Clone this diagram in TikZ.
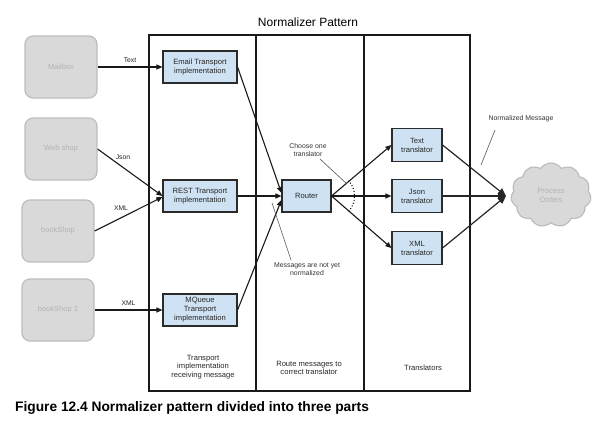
\documentclass[tikz,border=0pt]{standalone}
\usepackage{fontspec}
\setmainfont{Liberation Sans}
\usetikzlibrary{arrows.meta,shapes.symbols,calc}
\definecolor{boxblue}{HTML}{CFE2F3}
\definecolor{boxedge}{HTML}{2B2B2B}
\definecolor{srcfill}{HTML}{D9D9D9}
\definecolor{srcedge}{HTML}{BDBDBD}
\definecolor{srctext}{HTML}{B3B3B3}
\definecolor{notegray}{HTML}{555555}
\tikzset{
  srcbox/.style={draw=srcedge, fill=srcfill, line width=1.2pt, rounded corners=8pt,
    minimum width=72pt, minimum height=62pt, text=srctext, font=\fontsize{7.5}{9}\selectfont},
  compbox/.style={draw=boxedge, fill=boxblue, line width=1.1pt, minimum width=74pt,
    minimum height=32pt, align=center, inner sep=1pt, text=black!85, font=\fontsize{7.6}{9}\selectfont},
  trbox/.style={compbox, minimum width=50pt, minimum height=33pt},
  flow/.style={-{Triangle[length=6pt,width=5pt]}, line width=1.1pt, draw=black!90},
  conv/.style={-{Triangle[length=8pt,width=7pt]}, line width=1.2pt, draw=black!85},
  lbl/.style={font=\fontsize{6.8}{8}\selectfont, text=black!85},
  note/.style={font=\fontsize{6.9}{8}\selectfont, align=center, text=black!80},
  coltext/.style={font=\fontsize{7.6}{8.8}\selectfont, align=center, text=black!85},
  pointer/.style={draw=notegray, line width=0.6pt},
  frame/.style={draw=black!90, line width=1.1pt}
}
\begin{document}
\begin{tikzpicture}[x=1pt,y=-1pt]
\useasboundingbox (0,0) rectangle (605,424);
% frame and columns
\draw[frame] (149,35) rectangle (470,391);
\draw[frame] (256,35) -- (256,391);
\draw[frame] (364,35) -- (364,391);
\node (title) at (308,22) {\fontsize{12}{14}\selectfont Normalizer Pattern};

% sources
\node[srcbox] (mail) at (61,67) {Mailbox};
\node[srcbox] (web) at (61,149) {Web shop};
\node[srcbox] (book) at (58,231) {bookShop};
\node[srcbox] (book2) at (58,310) {bookShop 2};

% transports
\node[compbox] (email) at (200,67) {Email Transport\\implementation};
\node[compbox] (rest) at (200,196) {REST Transport\\implementation};
\node[compbox] (mq) at (200,310) {MQueue\\Transport\\implementation};

% router
\node[compbox, minimum width=49pt] (router) at (306.5,196) {Router};

% translators
\node[trbox] (ttext) at (417,145) {Text\\translator};
\node[trbox] (tjson) at (417,196) {Json\\translator};
\node[trbox] (txml) at (417,248) {XML\\translator};

% cloud
\node[cloud, cloud puffs=11, cloud puff arc=110, aspect=1.25, draw=srcedge, fill=srcfill,
      line width=1.2pt, minimum width=80pt, minimum height=64pt, text=srctext, align=center,
      font=\fontsize{7.5}{9}\selectfont] (proc) at (551,195) {Process\\Orders};
\coordinate (merge) at (506,196);

% source -> transport
\draw[flow] (mail.east) -- node[lbl, above=1pt] {Text} (email.west);
\draw[flow] (web.east) -- (rest.west);
\node[lbl] (jsonlbl) at (123,157) {Json};
\draw[flow] (book.east) -- ($(rest.west)+(0,1)$);
\node[lbl] (xmllbl) at (121,208) {XML};
\draw[flow] (book2.east) -- node[lbl, above=1pt] {XML} (mq.west);

% transport -> router
\draw[flow] (email.east) -- ($(router.west)+(0,-3)$);
\draw[flow] (rest.east) -- (router.west);
\draw[flow] (mq.east) -- ($(router.west)+(0,4)$);

% router -> translators
\draw[flow] (router.east) -- (ttext.west);
\draw[flow] (router.east) -- (tjson.west);
\draw[flow] (router.east) -- (txml.west);

% translators -> merge
\draw[conv] (ttext.east) -- (merge);
\draw[conv] (tjson.east) -- (merge);
\draw[conv] (txml.east) -- (merge);

% choose one translator note
\node[note] (choose) at (308,150) {Choose one\\translator};
\coordinate (chA) at (320,159);
\coordinate (chB) at (347,184);
\draw[pointer] (chA) -- (chB);
\draw[dotted, line width=1pt] (router.east) ++(42:23) arc[start angle=42, end angle=-42, radius=23];

% messages not normalized note
\node[note] (notnorm) at (307,269.5) {Messages are not yet\\normalized};
\coordinate (nnA) at (272,203);
\coordinate (nnB) at (291,260);
\draw[pointer] (nnA) -- (nnB);

% normalized message note
\node[note] (normmsg) at (521,119) {Normalized Message};
\coordinate (nmA) at (495,130);
\coordinate (nmB) at (481,165);
\draw[pointer] (nmA) -- (nmB);

% column labels
\node[coltext] (c1) at (203,367) {Transport\\implementation\\receiving message};
\node[coltext] (c2) at (309,368) {Route messages to\\correct translator};
\node[coltext] (c3) at (423,368) {Translators};

% caption
\node[anchor=west, inner sep=0pt] (cap) at (15,407.5) {\fontsize{13.75}{15}\selectfont\bfseries Figure 12.4 Normalizer pattern divided into three parts};
\end{tikzpicture}
\end{document}
